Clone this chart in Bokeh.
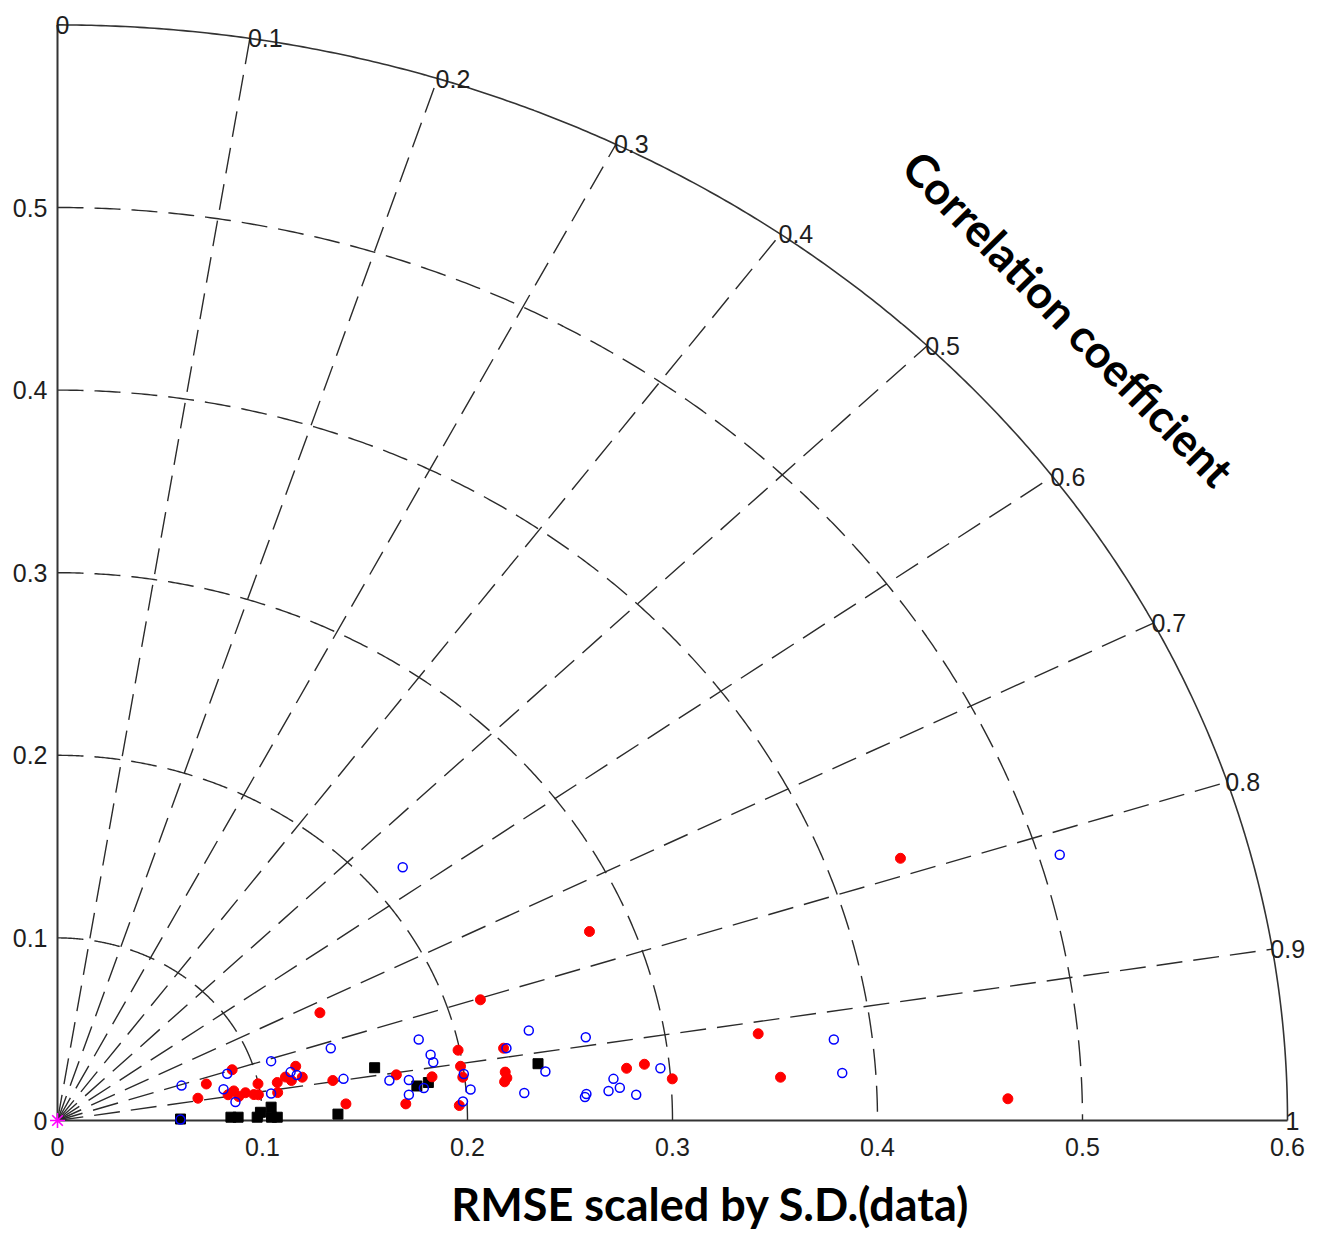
import numpy as np
from bokeh.plotting import figure
from bokeh.models import Range1d
from bokeh.embed import file_html
from bokeh.resources import INLINE
from bokeh.core.properties import value

# ---------------- data ----------------
red_x = [0.0685, 0.0726, 0.0852, 0.0832, 0.0860, 0.0884, 0.0917, 0.0958, 0.0980, 0.0978,
         0.1072, 0.1074, 0.1112, 0.1141, 0.1162, 0.1194, 0.1280, 0.1343, 0.1407, 0.1653,
         0.1699, 0.1827, 0.1954, 0.1966, 0.1977, 0.1960, 0.2063, 0.2176, 0.2184, 0.2192,
         0.2181, 0.2595, 0.2776, 0.2863, 0.2999, 0.3418, 0.3527, 0.4112, 0.4636]
red_y = [0.0122, 0.0200, 0.0278, 0.0141, 0.0162, 0.0131, 0.0152, 0.0142, 0.0141, 0.0201,
         0.0208, 0.0153, 0.0238, 0.0219, 0.0297, 0.0237, 0.0590, 0.0219, 0.0091, 0.0250,
         0.0091, 0.0239, 0.0385, 0.0297, 0.0237, 0.0082, 0.0661, 0.0396, 0.0265, 0.0233,
         0.0212, 0.1035, 0.0286, 0.0308, 0.0228, 0.0475, 0.0237, 0.1436, 0.0119]

blue_x = [0.0605, 0.0600, 0.0828, 0.0810, 0.0868, 0.1042, 0.1042, 0.1137, 0.1167, 0.1333,
          0.1395, 0.1684, 0.1619, 0.1714, 0.1714, 0.1762, 0.1787, 0.1820, 0.1833, 0.1982,
          0.2015, 0.1978, 0.2190, 0.2299, 0.2380, 0.2277, 0.2577, 0.2573, 0.2580, 0.2688,
          0.2712, 0.2743, 0.2823, 0.2941, 0.3787, 0.3828, 0.4889]
blue_y = [0.0191, 0.0005, 0.0256, 0.0171, 0.0101, 0.0325, 0.0148, 0.0265, 0.0249, 0.0396,
          0.0228, 0.1387, 0.0219, 0.0222, 0.0141, 0.0444, 0.0178, 0.0360, 0.0319, 0.0255,
          0.0170, 0.0104, 0.0396, 0.0493, 0.0268, 0.0151, 0.0456, 0.0129, 0.0145, 0.0162,
          0.0228, 0.0179, 0.0141, 0.0286, 0.0444, 0.0260, 0.1455]

black_x = [0.0600, 0.0846, 0.0881, 0.0974, 0.0990, 0.1042, 0.1044, 0.1072, 0.1368, 0.1547,
           0.1753, 0.1809, 0.2344]
black_y = [0.0008, 0.0018, 0.0018, 0.0018, 0.0045, 0.0073, 0.0018, 0.0018, 0.0035, 0.0289,
           0.0189, 0.0208, 0.0311]

ref_x = [0.0]
ref_y = [0.0]

corr_ticks = [0.0, 0.1, 0.2, 0.3, 0.4, 0.5, 0.6, 0.7, 0.8, 0.9, 1.0]
corr_labels = ["0", "0.1", "0.2", "0.3", "0.4", "0.5", "0.6", "0.7", "0.8", "0.9", "1"]
std_arcs = [0.1, 0.2, 0.3, 0.4, 0.5]
std_max = 0.6
x_ticks = [0.0, 0.1, 0.2, 0.3, 0.4, 0.5, 0.6]
x_tick_labels = ["0", "0.1", "0.2", "0.3", "0.4", "0.5", "0.6"]
y_ticks = [0.0, 0.1, 0.2, 0.3, 0.4, 0.5]
y_tick_labels = ["0", "0.1", "0.2", "0.3", "0.4", "0.5"]

x_title = "RMSE scaled by S.D.(data)"
arc_title = "Correlation coefficient"

# ---------------- figure ----------------
W, H = 1315, 1232
p = figure(width=W, height=H,
           x_range=Range1d(-0.027805, 0.613659),
           y_range=Range1d(-0.061336, 0.613363),
           x_axis_location=None, y_axis_location=None,
           output_backend="svg", toolbar_location=None, min_border=0)
p.grid.visible = False
p.outline_line_color = None
p.background_fill_color = "white"
p.border_fill_color = "white"

GRID = "#2b2b2b"
DASH = "26 11"

# radial correlation lines (inner ones, dashed)
inner = [c for c in corr_ticks if 0 < c < 1]
th = [(1 - c) * np.pi / 2 for c in inner]
p.segment(x0=[0.0] * len(th), y0=[0.0] * len(th),
          x1=[std_max * np.cos(t) for t in th], y1=[std_max * np.sin(t) for t in th],
          line_color=GRID, line_width=1.4, line_dash=DASH)

# std arcs (dashed)
tt = np.linspace(np.pi / 2, 0, 400)
p.multi_line(xs=[list(r * np.cos(tt)) for r in std_arcs],
             ys=[list(r * np.sin(tt)) for r in std_arcs],
             line_color=GRID, line_width=1.4, line_dash=DASH)

# outer solid arc
p.line(x=list(std_max * np.cos(tt)), y=list(std_max * np.sin(tt)),
       line_color="#333333", line_width=1.6)

# axis lines
p.line(x=[0, 0], y=[0, std_max], line_color="#333333", line_width=2)
p.line(x=[0, std_max], y=[0, 0], line_color="#333333", line_width=2)

# data points
p.scatter(black_x, black_y, marker="square", size=10, fill_color="black", line_color="black")
p.scatter(red_x, red_y, marker="circle", size=10, fill_color="#ff0000", line_color="#ff0000")
p.scatter(blue_x, blue_y, marker="circle", size=9, fill_color=None, line_color="#0000ff",
          line_width=1.5)
p.scatter(ref_x, ref_y, marker="asterisk", size=15, line_color="#ff00ff", line_width=1.6)

TICK_FONT = value("Liberation Sans")
TICK_COLOR = "#1e1e1e"

# axis tick labels
p.text(x=[0.0] * len(y_ticks), y=y_ticks, text=y_tick_labels,
       text_font=TICK_FONT, text_font_size="25px", text_color=TICK_COLOR,
       text_align="right", text_baseline="middle", x_offset=-10)
p.text(x=x_ticks, y=[0.0] * len(x_ticks), text=x_tick_labels,
       text_font=TICK_FONT, text_font_size="25px", text_color=TICK_COLOR,
       text_align="center", text_baseline="middle", y_offset=26)

# correlation labels around the outer arc
ct = [(1 - c) * np.pi / 2 for c in corr_ticks]
p.text(x=[std_max * np.cos(t) for t in ct], y=[std_max * np.sin(t) for t in ct],
       text=corr_labels, text_font=TICK_FONT, text_font_size="25px", text_color=TICK_COLOR,
       text_align="left", text_baseline="middle", x_offset=-2)

# titles
p.text(x=[0.3185], y=[-0.0455], text=[x_title], text_font=value("Lato"),
       text_font_style="bold", text_font_size="45px", text_color="black",
       text_align="center", text_baseline="middle")
p.text(x=[0.4932], y=[0.4392], text=[arc_title], text_font=value("Lato"),
       text_font_style="bold", text_font_size="45px", text_color="black",
       text_align="center", text_baseline="middle", angle=-0.794)

open("out.html", "w").write(file_html(p, INLINE))
